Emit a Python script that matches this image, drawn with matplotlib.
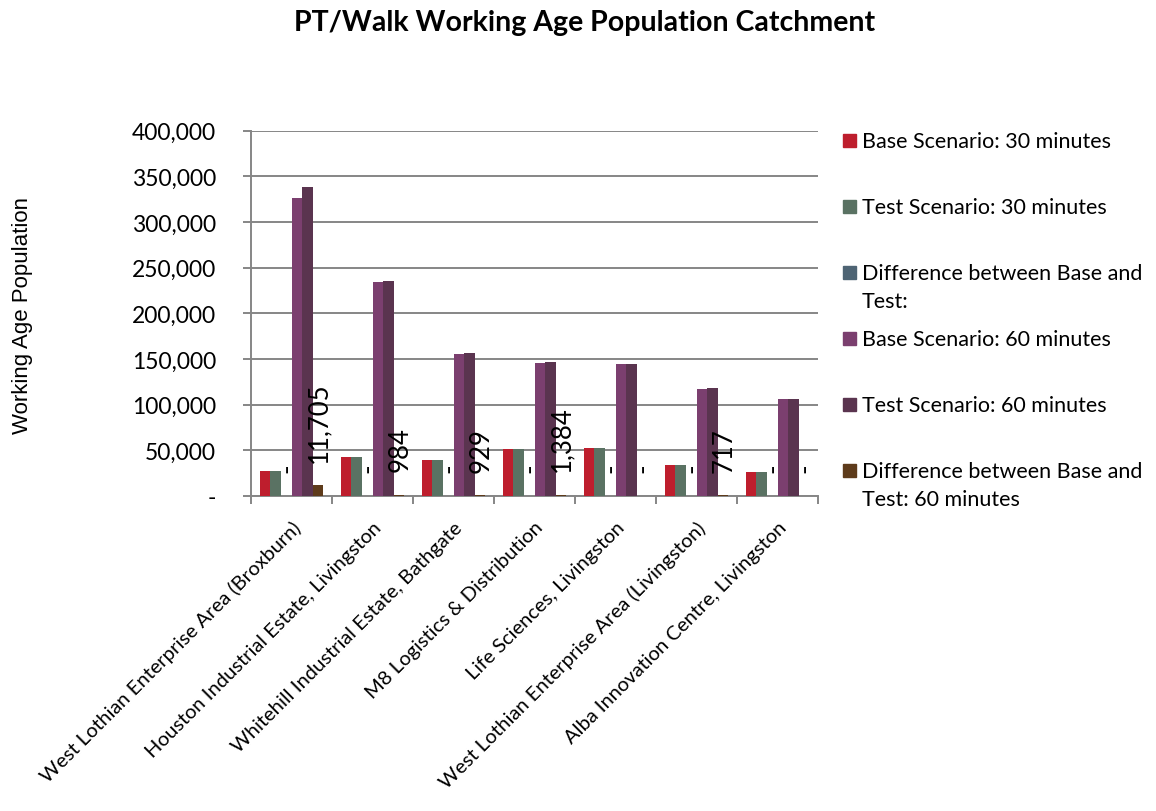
import matplotlib
matplotlib.use("Agg")
import matplotlib.pyplot as plt
from matplotlib.patches import Rectangle
from matplotlib.ticker import FuncFormatter, MultipleLocator
import numpy as np

plt.rcParams['font.family'] = ['Lato', 'DejaVu Sans']

sites = [
    "West Lothian Enterprise Area (Broxburn)",
    "Houston Industrial Estate, Livingston",
    "Whitehill Industrial Estate, Bathgate",
    "M8 Logistics & Distribution",
    "Life Sciences, Livingston",
    "West Lothian Enterprise Area (Livingston)",
    "Alba Innovation Centre, Livingston",
]

base_30 = [27700, 42400, 39900, 51200, 53000, 33600, 26300]
test_30 = [27700, 42400, 39900, 51200, 53000, 33600, 26300]
diff_30 = [0, 0, 0, 0, 0, 0, 0]
base_60 = [326500, 234200, 155300, 145100, 145000, 117600, 106000]
test_60 = [338205, 235184, 156229, 146484, 145000, 118317, 106000]
diff_60 = [11705, 984, 929, 1384, 0, 717, 0]

series = [
    ("Base Scenario: 30 minutes", base_30, "#BE1E2D"),
    ("Test Scenario: 30 minutes", test_30, "#5A7263"),
    ("Difference between Base and\nTest:", diff_30, "#4E6474"),
    ("Base Scenario: 60 minutes", base_60, "#7B3F6F"),
    ("Test Scenario: 60 minutes", test_60, "#5A344F"),
    ("Difference between Base and\nTest: 60 minutes", diff_60, "#5E3B1B"),
]
labelled = {2, 5}

W, H = 1156, 812
fig = plt.figure(figsize=(W / 100, H / 100), dpi=100)
ax = fig.add_axes([251 / W, 1 - 497 / H, (818 - 251) / W, (497 - 131.5) / H])

grey = "#868686"
x = np.arange(len(sites))
width = 1 / (len(series) + 1.6)

for i, (name, vals, color) in enumerate(series):
    pos = x + (i - (len(series) - 1) / 2) * width
    ax.bar(pos, vals, width, color=color, zorder=3)
    if i in labelled:
        for px, v in zip(pos, vals):
            txt = f"{v:,}" if v else "-"
            ax.annotate(txt, (px, v), xytext=(0.5, 17), textcoords="offset points",
                        ha="center", va="bottom", rotation=90, fontsize=18.5,
                        color="black", zorder=4)

ax.set_ylim(0, 400000)
ax.set_xlim(-0.5, len(sites) - 0.5)
ax.yaxis.set_major_locator(MultipleLocator(50000))
ax.yaxis.set_major_formatter(FuncFormatter(lambda v, p: f"{int(v):,}" if v else "-"))
ax.grid(axis="y", color=grey, linewidth=1.4, zorder=0)

ax.set_xticks(x)
ax.set_xticklabels(sites, rotation=45, ha="right", rotation_mode="anchor", fontsize=14.5)
ax.set_xticks(np.arange(len(sites) + 1) - 0.5, minor=True)
ax.tick_params(axis="x", which="major", length=0, pad=16)
ax.tick_params(axis="x", which="minor", length=6, width=1.4, color=grey)
ax.tick_params(axis="y", length=6, width=1.4, color=grey, labelsize=16.5, pad=19)

for s in ("top", "right"):
    ax.spines[s].set_visible(False)
for s in ("left", "bottom"):
    ax.spines[s].set_color(grey)
    ax.spines[s].set_linewidth(1.4)

ax.set_ylabel("Working Age Population", fontsize=16, family=["Liberation Sans"], labelpad=0)
ax.yaxis.set_label_coords(33 / W, 1 - 316 / H, transform=fig.transFigure)

fig.text(585 / W, 1 - 23 / H, "PT/Walk Working Age Population Catchment",
         ha="center", va="center", fontsize=20.5, fontweight="bold")

# legend drawn by hand so the key squares sit on the first line of wrapped labels
for i, (name, vals, color) in enumerate(series):
    yc = 141 + 66 * i
    fig.add_artist(Rectangle((843 / W, 1 - (yc + 6.5) / H), 13 / W, 13 / H,
                             transform=fig.transFigure, color=color))
    fig.text(862 / W, 1 - (yc - 9) / H, name, ha="left", va="top",
             fontsize=15.5, linespacing=1.5)

fig.savefig("out.png", dpi=100)
